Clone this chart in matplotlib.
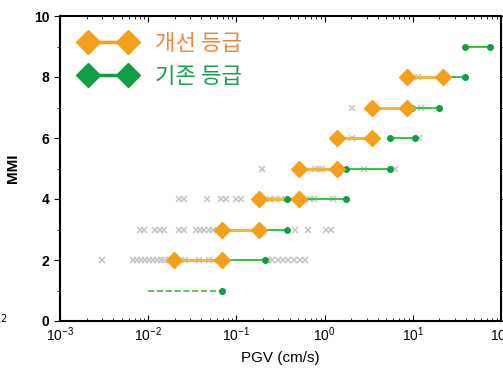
import matplotlib.pyplot as plt
from matplotlib.lines import Line2D

plt.rcParams['font.family'] = ['Liberation Sans', 'DejaVu Sans']

# improved grade (orange diamonds): PGV range per MMI
new_mmi = [2, 3, 4, 5, 6, 7, 8]
new_lo = [0.0195, 0.0685, 0.182, 0.51, 1.40, 3.45, 8.7]
new_hi = [0.0685, 0.182, 0.51, 1.40, 3.45, 8.7, 22.0]

# existing grade (green dots)
old_mmi = [2, 3, 4, 5, 6, 7, 8, 9]
old_lo = [0.0685, 0.182, 0.375, 1.76, 5.48, 9.9, 22.0, 38.9]
old_hi = [0.213, 0.375, 1.76, 5.48, 10.5, 19.9, 38.9, 76.0]
mmi1_lo, mmi1_hi = 0.0099, 0.0685

# observed records (gray crosses)
obs_mmi2 = [0.003, 0.0067, 0.0075, 0.0083, 0.0092, 0.0102, 0.0113, 0.0125,
            0.0138, 0.0153, 0.0175, 0.026, 0.038, 0.049, 0.23, 0.255, 0.298,
            0.339, 0.385, 0.45, 0.525, 0.597]
obs_mmi3 = [0.008, 0.0089, 0.0119, 0.0135, 0.0153, 0.0226, 0.0257, 0.035,
            0.0388, 0.043, 0.049, 0.0543, 0.461, 0.645, 1.03, 1.17]
obs_mmi4 = [0.0226, 0.0257, 0.0465, 0.0667, 0.0759, 0.0982, 0.112, 0.242,
            0.275, 0.321, 0.679, 0.753, 1.26]
obs_mmi5 = [0.197, 0.773, 0.857, 0.925, 2.8, 6.24]
obs_mmi6 = [2.06, 11.9]
obs_mmi7 = [2.06, 12.5]
obs_mmi8 = [11.6]

orange = '#F5A01A'
green = '#0E9F45'
lgreen = '#35C43A'
gray = '#C4C4C4'

fig = plt.figure(figsize=(5.03, 3.70), dpi=100)
ax = fig.add_axes([60/503, 49/370, 441/503, 305/370])

obs = [obs_mmi2, obs_mmi3, obs_mmi4, obs_mmi5, obs_mmi6, obs_mmi7, obs_mmi8]
for m, vals in zip(range(2, 9), obs):
    ax.plot(vals, [m]*len(vals), 'x', color=gray, ms=5, mew=1.1, zorder=1)

ax.plot([mmi1_lo, mmi1_hi], [1, 1], '--', color=lgreen, lw=1.2, zorder=2)
ax.plot([mmi1_hi], [1], 'o', color=green, ms=4, zorder=3)

for m, lo, hi in zip(new_mmi, new_lo, new_hi):
    ax.plot([lo, hi], [m, m], '-', color='#F2B43A', lw=2.2, zorder=2)
for m, lo, hi in zip(old_mmi, old_lo, old_hi):
    ax.plot([lo, hi], [m, m], '-', color=lgreen, lw=1.4, zorder=3)
    ax.plot([lo, hi], [m, m], 'o', color=green, ms=4, zorder=4)
for m, lo, hi in zip(new_mmi, new_lo, new_hi):
    ax.plot([lo, hi], [m, m], 'D', color=orange, ms=8, zorder=5)

ax.set_xscale('log')
ax.set_xlim(1e-3, 1e2)
ax.set_ylim(0, 10)
ax.set_yticks([0, 2, 4, 6, 8, 10])
ax.set_yticks([1, 3, 5, 7, 9], minor=True)
ax.tick_params(axis='y', which='both', direction='out', right=True, labelsize=10)
ax.tick_params(axis='x', which='both', direction='in', top=True, labelsize=10, pad=3)
ax.tick_params(which='major', length=4)
ax.tick_params(which='minor', length=2.5)
for lbl in ax.get_yticklabels():
    lbl.set_fontweight('bold')
for s in ax.spines.values():
    s.set_linewidth(1.5)

ax.set_xlabel('PGV (cm/s)', fontsize=11, labelpad=5)
ax.set_ylabel('MMI', fontsize=11, fontweight='bold', labelpad=10)

handles = [Line2D([], [], color=orange, lw=2.5, marker='D', ms=12, markevery=[0, 1]),
           Line2D([], [], color=green, lw=2.5, marker='D', ms=12, markevery=[0, 1])]
leg = ax.legend(handles, ['개선 등급', '기존 등급'], loc='upper left', frameon=False,
                bbox_to_anchor=(6/441, 1.0),
                prop={'family': ['Noto Sans CJK KR', 'DejaVu Sans'], 'size': 16},
                handlelength=2.4, handletextpad=0.9, labelspacing=0.45,
                borderaxespad=0.3, numpoints=2)
leg.get_texts()[0].set_color('#EE8A3C')
leg.get_texts()[1].set_color('#1C9E50')

fig.text(8/503, 1 - 322/370, '10$^2$', ha='right', va='center', fontsize=10)

fig.savefig('out.png', dpi=100)
